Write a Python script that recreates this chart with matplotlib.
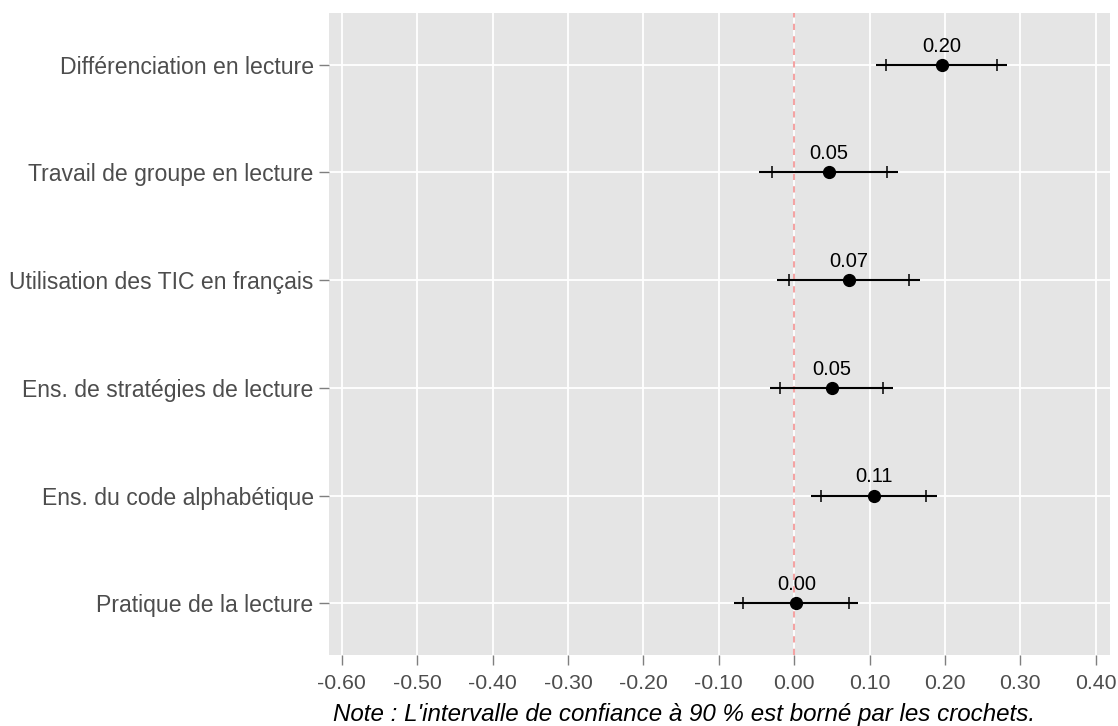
#!/usr/bin/env python3
"""
Coefficient plot: effects of teaching practices with confidence intervals.
"""

import matplotlib
matplotlib.use('Agg')
import matplotlib.pyplot as plt
import numpy as np

# Data (top to bottom as displayed)
categories = ['Différenciation en lecture',
              'Travail de groupe en lecture',
              'Utilisation des TIC en français',
              'Ens. de stratégies de lecture',
              'Ens. du code alphabétique',
              'Pratique de la lecture']
estimates = [0.196, 0.046, 0.073, 0.050, 0.106, 0.003]
ci90_low = [0.122, -0.030, -0.007, -0.019, 0.036, -0.068]
ci90_high = [0.269, 0.123, 0.152, 0.118, 0.175, 0.073]
ci95_low = [0.109, -0.046, -0.023, -0.032, 0.023, -0.080]
ci95_high = [0.282, 0.138, 0.167, 0.131, 0.189, 0.085]
xticks = [-0.6, -0.5, -0.4, -0.3, -0.2, -0.1, 0.0, 0.1, 0.2, 0.3, 0.4]
note = "Note : L'intervalle de confiance à 90 % est borné par les crochets."


def main():
    plt.rcParams['font.family'] = ['Liberation Sans', 'DejaVu Sans']

    fig = plt.figure(figsize=(11.18, 7.26), dpi=100)
    ax = fig.add_axes([329 / 1118, 1 - 655 / 726, (1110 - 329) / 1118, (655 - 13) / 726])
    ax.set_facecolor('#E5E5E5')
    for s in ax.spines.values():
        s.set_visible(False)

    n = len(categories)
    y = np.arange(n)[::-1] + 1

    # Grid
    ax.set_axisbelow(True)
    ax.grid(True, color='white', linewidth=1.3)

    # Zero reference line
    ax.axvline(0, color='#F4A3A3', linestyle=(0, (3, 3)), linewidth=1.5, zorder=1)

    # Wide interval (line) and 90% brackets (ticks)
    ax.hlines(y, ci95_low, ci95_high, color='black', linewidth=1.5, zorder=3)
    ax.plot(ci90_low, y, linestyle='none', marker='|', markersize=9,
            markeredgewidth=1.1, color='black', zorder=3)
    ax.plot(ci90_high, y, linestyle='none', marker='|', markersize=9,
            markeredgewidth=1.1, color='black', zorder=3)
    ax.plot(estimates, y, linestyle='none', marker='o', markersize=8.5,
            color='black', zorder=4)

    for xv, yv in zip(estimates, y):
        ax.annotate(f'{xv:.2f}', (xv, yv), xytext=(0, 9.5), textcoords='offset points',
                    ha='center', va='baseline', fontsize=14.5, color='black')

    ax.set_xlim(-0.617, 0.419)
    ax.set_ylim(0.52, n + 0.48)
    ax.set_xticks(xticks)
    ax.set_xticklabels([f'{t:.2f}' for t in xticks])
    ax.set_yticks(y)
    ax.set_yticklabels(categories)
    ax.tick_params(axis='both', direction='out', length=7, width=1,
                   color='#7F7F7F', labelcolor='#4D4D4D', pad=4)
    ax.tick_params(axis='y', labelsize=16.6)
    ax.tick_params(axis='x', labelsize=15.3, pad=7)

    fig.text(333 / 1118, 1 - 715 / 726, note, ha='left', va='center',
             fontsize=17.4, style='italic', color='black')

    fig.savefig('out.png', dpi=100)


if __name__ == '__main__':
    main()
